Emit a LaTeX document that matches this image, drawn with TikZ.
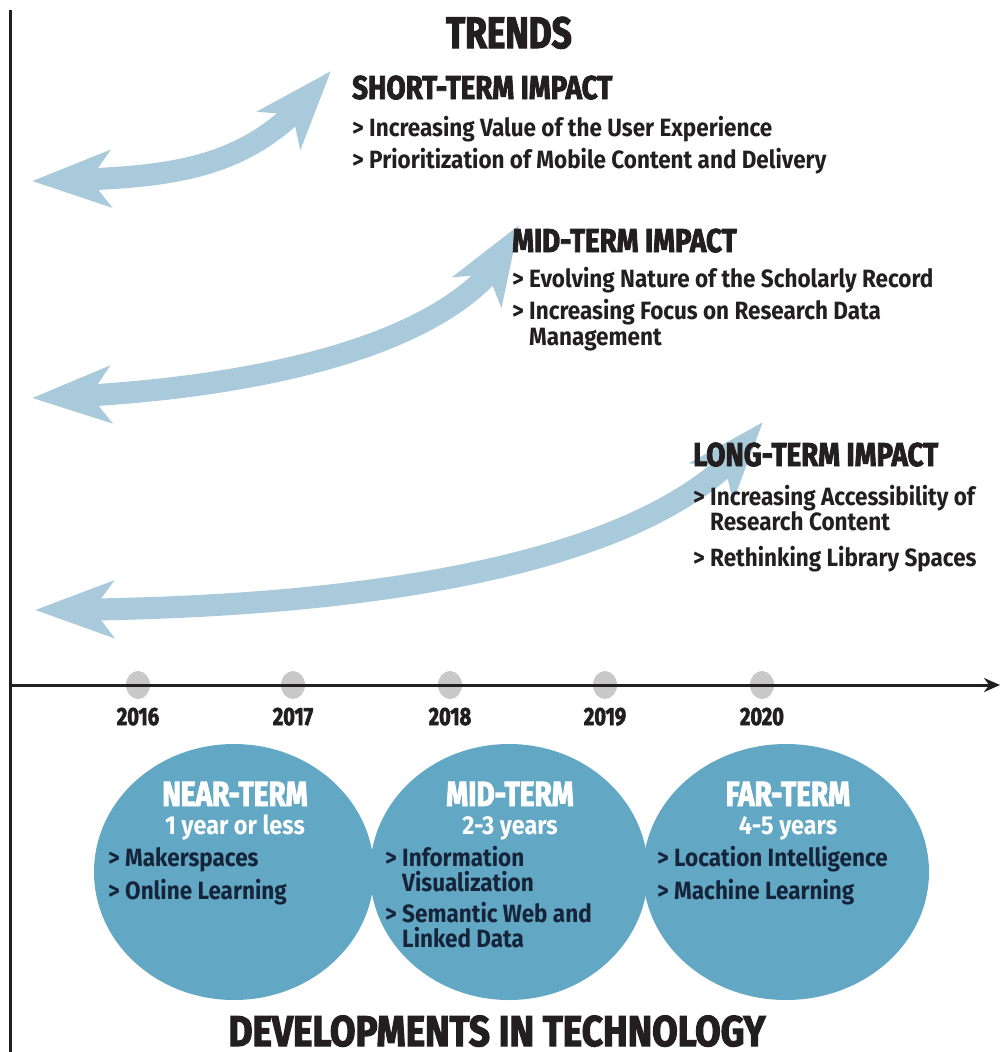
\documentclass[tikz,border=0pt]{standalone}
\usepackage{fontspec}
\setmainfont{Fira Sans}
\newfontfamily\hfont[FakeStretch=0.84,BoldFeatures={FakeBold=2.5}]{Fira Sans}
\newfontfamily\tfont[FakeStretch=0.80,BoldFeatures={FakeBold=2.5}]{Fira Sans}
\newfontfamily\dfont[FakeStretch=0.86,BoldFeatures={FakeBold=2.5}]{Fira Sans}
\newfontfamily\ifont[FakeStretch=0.90]{Fira Sans}
\usetikzlibrary{arrows.meta,bending,shapes.geometric}
\definecolor{arrowblue}{RGB}{168,202,218}
\definecolor{circleblue}{RGB}{98,168,196}
\definecolor{dotgray}{RGB}{200,200,200}
\definecolor{navy}{RGB}{22,36,58}
\definecolor{textdark}{RGB}{35,31,32}
\tikzset{
  trendarrow/.style={draw=arrowblue, line width=22pt,
    {Stealth[length=78pt,width=56pt,inset=20pt]}-{Stealth[length=78pt,width=56pt,inset=20pt]}},
  axisline/.style={draw=textdark, line width=3pt},
  devcircle/.style={ellipse, fill=circleblue, draw=none, inner sep=0pt},
  yeardot/.style={ellipse, fill=dotgray, draw=none, inner sep=0pt, minimum width=24pt, minimum height=28pt},
  bigtitle/.style={anchor=base, inner sep=0pt, text depth=0pt, text=textdark, font=\tfont\bfseries\fontsize{44}{44}\selectfont},
  devtitle/.style={anchor=base, inner sep=0pt, text depth=0pt, text=textdark, font=\dfont\bfseries\fontsize{43}{43}\selectfont},
  heading/.style={anchor=base west, inner sep=0pt, text depth=0pt, text=textdark, font=\hfont\bfseries\fontsize{33}{33}\selectfont},
  item/.style={anchor=base west, inner sep=0pt, text=textdark, font=\ifont\bfseries\fontsize{25}{25}\selectfont},
  year/.style={anchor=base, inner sep=0pt, text=textdark, font=\tfont\bfseries\fontsize{25}{25}\selectfont},
  cirhead/.style={anchor=base, inner sep=0pt, text depth=0pt, text=white, font=\tfont\bfseries\fontsize{35}{35}\selectfont},
  cirsub/.style={anchor=base, inner sep=0pt, text height=18pt, text=white, font=\ifont\bfseries\fontsize{26}{26}\selectfont},
  citem/.style={anchor=base west, inner sep=0pt, text=navy, font=\ifont\bfseries\fontsize{25}{25}\selectfont},
}
\newcommand\gt{\textgreater\ }
\begin{document}
\begin{tikzpicture}[x=1pt,y=-1pt]
\useasboundingbox (0,0) rectangle (1000,1052);
\fill[white] (0,0) rectangle (1000,1052);

% development circles
\node[devcircle, minimum width=280pt, minimum height=256pt] (near) at (234,872) {};
\node[devcircle, minimum width=278pt, minimum height=256pt] (mid) at (509,872) {};
\node[devcircle, minimum width=286pt, minimum height=256pt] (far) at (786,872) {};

% year dots and labels
\foreach \x/\yr in {138/2016,293/2017,450/2018,605/2019,762/2020}{
  \node[yeardot] (dot\yr) at (\x,685) {};
  \node[year] (lab\yr) at (\x,725) {\yr};
}

% axes
\coordinate (ytop) at (10,10);
\coordinate (ybot) at (10,1052);
\coordinate (origin) at (10,685);
\coordinate (xend) at (1000,685);
\draw[axisline] (ytop) -- (ybot);
\draw[axisline, -{Stealth[length=16pt,width=14pt]}] (origin) -- (xend);

% trend arrows
\coordinate (s-l) at (32,181);
\coordinate (s-r) at (331,71);
\coordinate (m-l) at (32,398);
\coordinate (m-r) at (519,225);
\coordinate (l-l) at (35,610);
\coordinate (l-r) at (763,422);
\draw[trendarrow] (s-l) .. controls (180,178) and (255,172) .. (s-r);
\draw[trendarrow] (m-l) .. controls (250,392) and (478,345) .. (m-r);
\draw[trendarrow] (l-l) .. controls (450,610) and (690,540) .. (l-r);

% trends text
\node[bigtitle] (trends) at (509,48) {TRENDS};
\node[heading] (sh) at (352,99) {SHORT-TERM IMPACT};
\node[item] (s1) at (352,136) {\gt Increasing Value of the User Experience};
\node[item] (s2) at (352,168) {\gt Prioritization of Mobile Content and Delivery};

\node[heading] (mh) at (512,252) {MID-TERM IMPACT};
\node[item] (m1) at (512,287) {\gt Evolving Nature of the Scholarly Record};
\node[item] (m2) at (512,319) {\gt Increasing Focus on Research Data};
\node[item] (m2b) at (512,345) {\phantom{\gt}Management};

\node[heading] (lh) at (693,466) {LONG-TERM IMPACT};
\node[item] (l1) at (693,505) {\gt Increasing Accessibility of};
\node[item] (l1b) at (693,530) {\phantom{\gt}Research Content};
\node[item] (l2) at (693,566) {\gt Rethinking Library Spaces};

% circle text
\node[cirhead] (nh) at (235,806) {NEAR-TERM};
\node[cirsub] (ns) at (235,834) {1 year or less};
\node[citem] (n1) at (108,866) {\gt Makerspaces};
\node[citem] (n2) at (108,899) {\gt Online Learning};

\node[cirhead] (mdh) at (510,806) {MID-TERM};
\node[cirsub] (mds) at (510,834) {2-3 years};
\node[citem] (md1) at (385,866) {\gt Information};
\node[citem] (md1b) at (385,891) {\phantom{\gt}Visualization};
\node[citem] (md2) at (385,922) {\gt Semantic Web and};
\node[citem] (md2b) at (385,947) {\phantom{\gt}Linked Data};

\node[cirhead] (fh) at (788,806) {FAR-TERM};
\node[cirsub] (fs) at (788,834) {4-5 years};
\node[citem] (f1) at (657,866) {\gt Location Intelligence};
\node[citem] (f2) at (657,899) {\gt Machine Learning};

\node[devtitle] (dev) at (497,1046) {DEVELOPMENTS IN TECHNOLOGY};
\end{tikzpicture}
\end{document}
